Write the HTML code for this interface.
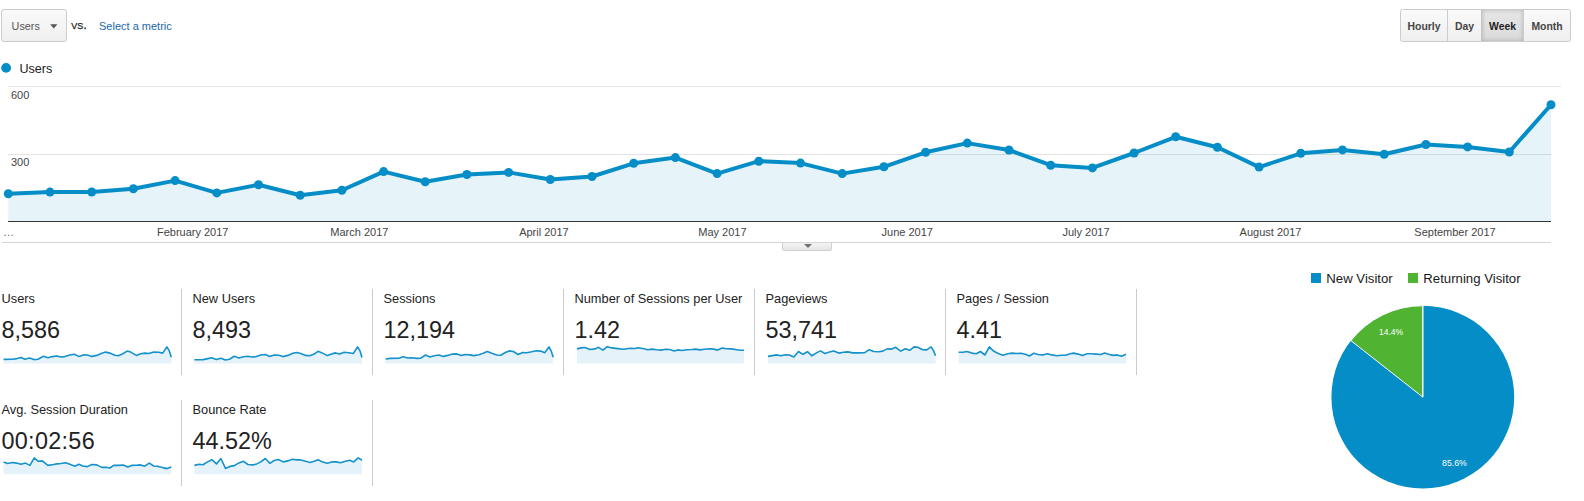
<!DOCTYPE html>
<html><head><meta charset="utf-8"><title>Audience Overview</title>
<style>
html,body{margin:0;padding:0;background:#fff}
body{width:1584px;height:501px;position:relative;overflow:hidden;font-family:"Liberation Sans",Arial,sans-serif;color:#222}
#cv{position:absolute;left:0;top:0}
.btn{position:absolute;box-sizing:border-box;border:1px solid #ccc;border-radius:3px;background:linear-gradient(#fafafa,#efefef);font-size:10.8px;color:#555}
#dd{left:1px;top:9px;width:66px;height:33px;line-height:33px;padding-left:9.6px}
#dd svg{position:absolute;left:47.8px;top:14px}
#vs{position:absolute;left:71.3px;top:17px;font-size:13px;line-height:15px;color:#222;font-variant:small-caps;-webkit-text-stroke:0.25px #222}
#sel{position:absolute;left:99px;top:20px;font-size:11px;line-height:13px;color:#1a68ad}
#grp{position:absolute;left:1400px;top:9px;width:171px;height:33px;box-sizing:border-box;border:1px solid #ccc;border-radius:2.5px;background:linear-gradient(#fafafa,#efefef);font-size:10.4px;font-weight:bold;color:#444;overflow:hidden}
#grp span{position:absolute;top:0;height:31px;line-height:34px;text-align:center;box-sizing:border-box;border-left:1px solid #ccc}
#grp span.on{background:linear-gradient(#e6e6e6,#dadada);box-shadow:inset 0 0 4px rgba(0,0,0,.22);color:#222;border-left-color:#c4c4c4}
#tab{position:absolute;left:782px;top:243px;width:50px;height:8px;box-sizing:border-box;border:1px solid #d0d0d0;border-top:none;border-radius:0 0 3px 3px;background:linear-gradient(#f4f4f4,#e6e6e6)}
#tab i{position:absolute;left:20.5px;top:1px;width:0;height:0;border-left:4px solid transparent;border-right:4px solid transparent;border-top:4px solid #707070}
.lbl{position:absolute;font-size:12.8px;line-height:16px;color:#222;white-space:nowrap}
.val{position:absolute;font-size:23.4px;line-height:28px;color:#222;white-space:nowrap}
.vd{position:absolute;width:1px;height:86px;background:#ccc}
</style></head><body>
<svg id="cv" width="1584" height="501" viewBox="0 0 1584 501">
<rect x="8" y="86" width="1553" height="1" fill="#e3e3e3"/>
<rect x="8" y="154" width="1543" height="1" fill="#e3e3e3"/>
<polygon points="8.3,221.0 8.3,193.8 50.0,192.1 91.7,192.0 133.4,188.8 175.1,180.6 216.8,192.9 258.5,184.7 300.2,195.3 341.9,190.3 383.6,171.6 425.2,181.7 466.9,174.5 508.6,172.4 550.3,179.5 592.0,176.5 633.7,163.3 675.4,157.6 717.1,173.6 758.8,161.2 800.5,163.1 842.2,173.6 883.9,166.8 925.6,152.3 967.3,143.1 1009.0,150.0 1050.7,165.2 1092.4,167.9 1134.1,153.0 1175.7,136.8 1217.4,147.3 1259.1,167.1 1300.8,153.3 1342.5,149.9 1384.2,154.3 1425.9,144.5 1467.6,146.9 1509.3,152.0 1551.0,104.8 1551.0,221.0" fill="#058dc7" fill-opacity="0.1"/>
<rect x="8" y="221" width="1543" height="1" fill="#333"/>
<rect x="2" y="242" width="1549" height="1" fill="#d4d4d4"/>
<polyline points="8.3,193.8 50.0,192.1 91.7,192.0 133.4,188.8 175.1,180.6 216.8,192.9 258.5,184.7 300.2,195.3 341.9,190.3 383.6,171.6 425.2,181.7 466.9,174.5 508.6,172.4 550.3,179.5 592.0,176.5 633.7,163.3 675.4,157.6 717.1,173.6 758.8,161.2 800.5,163.1 842.2,173.6 883.9,166.8 925.6,152.3 967.3,143.1 1009.0,150.0 1050.7,165.2 1092.4,167.9 1134.1,153.0 1175.7,136.8 1217.4,147.3 1259.1,167.1 1300.8,153.3 1342.5,149.9 1384.2,154.3 1425.9,144.5 1467.6,146.9 1509.3,152.0 1551.0,104.8" fill="none" stroke="#058dc7" stroke-width="4" stroke-linejoin="round" stroke-linecap="round"/>
<circle cx="8.3" cy="193.8" r="4.5" fill="#058dc7"/>
<circle cx="50.0" cy="192.1" r="4.5" fill="#058dc7"/>
<circle cx="91.7" cy="192.0" r="4.5" fill="#058dc7"/>
<circle cx="133.4" cy="188.8" r="4.5" fill="#058dc7"/>
<circle cx="175.1" cy="180.6" r="4.5" fill="#058dc7"/>
<circle cx="216.8" cy="192.9" r="4.5" fill="#058dc7"/>
<circle cx="258.5" cy="184.7" r="4.5" fill="#058dc7"/>
<circle cx="300.2" cy="195.3" r="4.5" fill="#058dc7"/>
<circle cx="341.9" cy="190.3" r="4.5" fill="#058dc7"/>
<circle cx="383.6" cy="171.6" r="4.5" fill="#058dc7"/>
<circle cx="425.2" cy="181.7" r="4.5" fill="#058dc7"/>
<circle cx="466.9" cy="174.5" r="4.5" fill="#058dc7"/>
<circle cx="508.6" cy="172.4" r="4.5" fill="#058dc7"/>
<circle cx="550.3" cy="179.5" r="4.5" fill="#058dc7"/>
<circle cx="592.0" cy="176.5" r="4.5" fill="#058dc7"/>
<circle cx="633.7" cy="163.3" r="4.5" fill="#058dc7"/>
<circle cx="675.4" cy="157.6" r="4.5" fill="#058dc7"/>
<circle cx="717.1" cy="173.6" r="4.5" fill="#058dc7"/>
<circle cx="758.8" cy="161.2" r="4.5" fill="#058dc7"/>
<circle cx="800.5" cy="163.1" r="4.5" fill="#058dc7"/>
<circle cx="842.2" cy="173.6" r="4.5" fill="#058dc7"/>
<circle cx="883.9" cy="166.8" r="4.5" fill="#058dc7"/>
<circle cx="925.6" cy="152.3" r="4.5" fill="#058dc7"/>
<circle cx="967.3" cy="143.1" r="4.5" fill="#058dc7"/>
<circle cx="1009.0" cy="150.0" r="4.5" fill="#058dc7"/>
<circle cx="1050.7" cy="165.2" r="4.5" fill="#058dc7"/>
<circle cx="1092.4" cy="167.9" r="4.5" fill="#058dc7"/>
<circle cx="1134.1" cy="153.0" r="4.5" fill="#058dc7"/>
<circle cx="1175.7" cy="136.8" r="4.5" fill="#058dc7"/>
<circle cx="1217.4" cy="147.3" r="4.5" fill="#058dc7"/>
<circle cx="1259.1" cy="167.1" r="4.5" fill="#058dc7"/>
<circle cx="1300.8" cy="153.3" r="4.5" fill="#058dc7"/>
<circle cx="1342.5" cy="149.9" r="4.5" fill="#058dc7"/>
<circle cx="1384.2" cy="154.3" r="4.5" fill="#058dc7"/>
<circle cx="1425.9" cy="144.5" r="4.5" fill="#058dc7"/>
<circle cx="1467.6" cy="146.9" r="4.5" fill="#058dc7"/>
<circle cx="1509.3" cy="152.0" r="4.5" fill="#058dc7"/>
<circle cx="1551.0" cy="104.8" r="4.5" fill="#058dc7"/>
<g font-family="Liberation Sans, Arial, sans-serif" font-size="11" fill="#444">
<text x="11" y="98.7">600</text><text x="11" y="166">300</text>
<text x="3" y="236" fill="#666">…</text>
<text x="192.7" y="236" text-anchor="middle">February 2017</text>
<text x="359.4" y="236" text-anchor="middle">March 2017</text>
<text x="543.9" y="236" text-anchor="middle">April 2017</text>
<text x="722.4" y="236" text-anchor="middle">May 2017</text>
<text x="907.3" y="236" text-anchor="middle">June 2017</text>
<text x="1086" y="236" text-anchor="middle">July 2017</text>
<text x="1270.5" y="236" text-anchor="middle">August 2017</text>
<text x="1455" y="236" text-anchor="middle">September 2017</text>
</g>
<circle cx="6.1" cy="67.9" r="4.9" fill="#058dc7"/>
<text x="19.4" y="72.7" font-family="Liberation Sans, Arial, sans-serif" font-size="12.6" fill="#222">Users</text>
<polygon points="3.6,363.4 3.6,359.4 12.0,359.2 17.0,358.6 21.0,357.4 25.0,359.2 29.5,358.0 33.9,359.6 37.9,359.2 43.5,356.2 47.9,357.8 52.3,356.6 56.9,356.0 60.9,357.0 64.9,356.6 69.9,355.0 74.3,354.3 78.8,356.4 83.4,354.9 87.4,355.0 91.8,356.4 96.8,355.4 101.8,353.3 105.8,352.1 109.8,353.1 114.8,355.2 118.8,355.6 122.8,353.7 127.1,351.1 130.7,352.1 136.3,355.4 140.7,353.7 144.7,353.1 148.7,353.5 153.7,352.1 158.7,352.3 162.7,353.1 166.9,346.9 169.3,350.9 171.3,357.2 171.3,363.4" fill="#e6f2f9"/>
<polyline points="3.6,359.4 12.0,359.2 17.0,358.6 21.0,357.4 25.0,359.2 29.5,358.0 33.9,359.6 37.9,359.2 43.5,356.2 47.9,357.8 52.3,356.6 56.9,356.0 60.9,357.0 64.9,356.6 69.9,355.0 74.3,354.3 78.8,356.4 83.4,354.9 87.4,355.0 91.8,356.4 96.8,355.4 101.8,353.3 105.8,352.1 109.8,353.1 114.8,355.2 118.8,355.6 122.8,353.7 127.1,351.1 130.7,352.1 136.3,355.4 140.7,353.7 144.7,353.1 148.7,353.5 153.7,352.1 158.7,352.3 162.7,353.1 166.9,346.9 169.3,350.9 171.3,357.2" fill="none" stroke="#1591cb" stroke-width="1.6" stroke-linejoin="round"/>
<polygon points="194.4,363.4 194.4,359.8 203.0,359.6 207.9,358.6 211.5,357.8 216.3,359.6 220.9,358.2 225.5,360.0 229.5,359.2 234.3,356.2 238.9,358.0 243.5,356.8 247.9,356.2 251.9,357.0 256.2,356.6 260.8,355.0 265.4,354.5 269.8,356.4 274.2,355.0 278.8,355.2 282.8,356.6 287.8,355.4 292.8,353.3 296.8,352.5 300.8,353.5 305.7,355.4 309.7,355.8 313.7,354.3 318.1,351.3 322.1,352.9 327.3,355.6 331.7,353.9 335.7,352.9 339.7,354.1 344.1,352.3 348.7,352.7 353.3,353.5 357.6,346.9 360.0,350.9 362.0,357.4 362.0,363.4" fill="#e6f2f9"/>
<polyline points="194.4,359.8 203.0,359.6 207.9,358.6 211.5,357.8 216.3,359.6 220.9,358.2 225.5,360.0 229.5,359.2 234.3,356.2 238.9,358.0 243.5,356.8 247.9,356.2 251.9,357.0 256.2,356.6 260.8,355.0 265.4,354.5 269.8,356.4 274.2,355.0 278.8,355.2 282.8,356.6 287.8,355.4 292.8,353.3 296.8,352.5 300.8,353.5 305.7,355.4 309.7,355.8 313.7,354.3 318.1,351.3 322.1,352.9 327.3,355.6 331.7,353.9 335.7,352.9 339.7,354.1 344.1,352.3 348.7,352.7 353.3,353.5 357.6,346.9 360.0,350.9 362.0,357.4" fill="none" stroke="#1591cb" stroke-width="1.6" stroke-linejoin="round"/>
<polygon points="385.6,363.4 385.6,359.0 390.0,358.4 398.9,358.2 402.9,356.8 407.9,358.0 411.9,357.8 416.9,358.4 420.9,358.2 425.5,355.0 429.9,357.0 434.3,355.8 438.9,355.0 443.3,356.4 447.8,355.4 452.2,354.1 456.8,353.9 461.2,355.4 465.4,354.5 469.8,354.9 473.8,355.6 478.8,354.7 483.2,353.3 487.2,351.5 491.8,353.3 496.7,355.0 500.7,355.2 505.3,352.5 509.1,350.9 513.3,351.5 518.1,354.5 522.7,352.5 526.7,352.7 531.7,351.7 536.1,350.7 540.7,351.1 544.7,352.7 549.0,346.9 551.2,350.9 553.2,357.2 553.2,363.4" fill="#e6f2f9"/>
<polyline points="385.6,359.0 390.0,358.4 398.9,358.2 402.9,356.8 407.9,358.0 411.9,357.8 416.9,358.4 420.9,358.2 425.5,355.0 429.9,357.0 434.3,355.8 438.9,355.0 443.3,356.4 447.8,355.4 452.2,354.1 456.8,353.9 461.2,355.4 465.4,354.5 469.8,354.9 473.8,355.6 478.8,354.7 483.2,353.3 487.2,351.5 491.8,353.3 496.7,355.0 500.7,355.2 505.3,352.5 509.1,350.9 513.3,351.5 518.1,354.5 522.7,352.5 526.7,352.7 531.7,351.7 536.1,350.7 540.7,351.1 544.7,352.7 549.0,346.9 551.2,350.9 553.2,357.2" fill="none" stroke="#1591cb" stroke-width="1.6" stroke-linejoin="round"/>
<polygon points="577.0,363.4 577.0,348.9 581.0,347.9 585.0,347.5 589.9,349.5 594.9,348.9 598.5,347.3 602.9,350.1 607.3,346.7 611.9,347.9 619.9,348.9 623.9,349.3 629.9,348.3 634.9,348.5 637.8,347.7 642.8,348.5 647.8,349.7 652.2,349.1 656.8,349.7 660.8,350.1 665.8,349.3 669.8,349.5 674.2,350.9 677.8,349.9 682.2,350.5 686.7,349.7 691.7,349.5 695.7,349.1 699.7,349.9 704.7,349.3 709.7,348.7 713.7,349.1 717.7,350.1 722.1,348.1 726.7,348.7 731.7,348.9 736.6,349.7 740.6,350.3 744.0,350.3 744.0,363.4" fill="#e6f2f9"/>
<polyline points="577.0,348.9 581.0,347.9 585.0,347.5 589.9,349.5 594.9,348.9 598.5,347.3 602.9,350.1 607.3,346.7 611.9,347.9 619.9,348.9 623.9,349.3 629.9,348.3 634.9,348.5 637.8,347.7 642.8,348.5 647.8,349.7 652.2,349.1 656.8,349.7 660.8,350.1 665.8,349.3 669.8,349.5 674.2,350.9 677.8,349.9 682.2,350.5 686.7,349.7 691.7,349.5 695.7,349.1 699.7,349.9 704.7,349.3 709.7,348.7 713.7,349.1 717.7,350.1 722.1,348.1 726.7,348.7 731.7,348.9 736.6,349.7 740.6,350.3 744.0,350.3" fill="none" stroke="#1591cb" stroke-width="1.6" stroke-linejoin="round"/>
<polygon points="768.0,363.4 768.0,356.4 772.4,355.6 776.3,354.9 780.9,355.8 785.5,354.7 789.3,355.0 793.9,357.0 798.5,351.5 802.9,354.3 807.5,351.7 811.9,355.8 816.5,352.9 820.5,350.9 824.9,353.5 829.4,352.1 833.8,350.9 838.8,353.1 843.4,352.3 847.8,351.9 852.8,352.9 858.8,352.9 864.8,352.7 869.2,349.7 873.8,351.5 878.7,351.7 882.7,351.1 887.3,348.9 891.7,349.1 895.7,347.3 900.7,351.1 905.3,348.7 909.7,350.3 914.1,346.9 917.7,347.3 922.7,349.7 926.6,349.9 931.2,346.9 933.6,350.9 935.6,355.8 935.6,363.4" fill="#e6f2f9"/>
<polyline points="768.0,356.4 772.4,355.6 776.3,354.9 780.9,355.8 785.5,354.7 789.3,355.0 793.9,357.0 798.5,351.5 802.9,354.3 807.5,351.7 811.9,355.8 816.5,352.9 820.5,350.9 824.9,353.5 829.4,352.1 833.8,350.9 838.8,353.1 843.4,352.3 847.8,351.9 852.8,352.9 858.8,352.9 864.8,352.7 869.2,349.7 873.8,351.5 878.7,351.7 882.7,351.1 887.3,348.9 891.7,349.1 895.7,347.3 900.7,351.1 905.3,348.7 909.7,350.3 914.1,346.9 917.7,347.3 922.7,349.7 926.6,349.9 931.2,346.9 933.6,350.9 935.6,355.8" fill="none" stroke="#1591cb" stroke-width="1.6" stroke-linejoin="round"/>
<polygon points="958.6,363.4 958.6,352.3 963.0,352.3 966.9,351.5 971.9,353.1 976.3,353.7 980.5,351.5 984.9,355.0 989.3,346.9 993.9,351.3 998.3,353.5 1002.9,355.2 1007.9,353.7 1011.9,353.1 1016.8,353.5 1020.8,353.3 1025.4,354.3 1029.4,356.0 1033.8,353.3 1038.2,354.5 1042.8,354.9 1047.2,353.7 1051.8,354.9 1056.8,355.8 1061.4,355.2 1065.7,355.2 1070.1,353.7 1073.7,353.1 1078.1,354.1 1082.5,355.6 1087.1,353.7 1091.7,353.7 1096.1,354.1 1100.7,354.5 1104.7,353.1 1109.3,354.5 1113.3,355.4 1117.2,354.9 1121.6,356.2 1126.0,354.3 1126.0,363.4" fill="#e6f2f9"/>
<polyline points="958.6,352.3 963.0,352.3 966.9,351.5 971.9,353.1 976.3,353.7 980.5,351.5 984.9,355.0 989.3,346.9 993.9,351.3 998.3,353.5 1002.9,355.2 1007.9,353.7 1011.9,353.1 1016.8,353.5 1020.8,353.3 1025.4,354.3 1029.4,356.0 1033.8,353.3 1038.2,354.5 1042.8,354.9 1047.2,353.7 1051.8,354.9 1056.8,355.8 1061.4,355.2 1065.7,355.2 1070.1,353.7 1073.7,353.1 1078.1,354.1 1082.5,355.6 1087.1,353.7 1091.7,353.7 1096.1,354.1 1100.7,354.5 1104.7,353.1 1109.3,354.5 1113.3,355.4 1117.2,354.9 1121.6,356.2 1126.0,354.3" fill="none" stroke="#1591cb" stroke-width="1.6" stroke-linejoin="round"/>
<polygon points="3.6,474.2 3.6,461.9 7.6,463.5 12.4,462.5 16.4,463.1 21.0,464.3 25.5,463.1 29.9,465.4 34.3,457.9 38.3,461.3 42.3,460.9 47.9,465.4 52.3,464.7 56.9,463.9 60.9,463.5 65.5,462.7 69.9,464.3 74.9,466.2 78.8,464.3 82.8,466.0 87.4,466.6 91.8,464.5 96.8,464.9 101.8,467.4 105.8,467.2 109.8,468.0 114.2,465.2 118.8,465.4 123.2,465.0 127.7,467.0 131.7,465.4 136.3,465.2 140.7,464.9 144.7,466.2 149.3,463.1 153.7,466.0 158.3,466.4 162.7,467.6 167.1,468.6 171.3,467.0 171.3,474.2" fill="#e6f2f9"/>
<polyline points="3.6,461.9 7.6,463.5 12.4,462.5 16.4,463.1 21.0,464.3 25.5,463.1 29.9,465.4 34.3,457.9 38.3,461.3 42.3,460.9 47.9,465.4 52.3,464.7 56.9,463.9 60.9,463.5 65.5,462.7 69.9,464.3 74.9,466.2 78.8,464.3 82.8,466.0 87.4,466.6 91.8,464.5 96.8,464.9 101.8,467.4 105.8,467.2 109.8,468.0 114.2,465.2 118.8,465.4 123.2,465.0 127.7,467.0 131.7,465.4 136.3,465.2 140.7,464.9 144.7,466.2 149.3,463.1 153.7,466.0 158.3,466.4 162.7,467.6 167.1,468.6 171.3,467.0" fill="none" stroke="#1591cb" stroke-width="1.6" stroke-linejoin="round"/>
<polygon points="194.4,474.2 194.4,465.4 199.0,464.3 203.0,464.7 207.5,461.9 211.9,459.7 216.5,463.9 220.9,458.5 225.5,468.4 229.9,466.4 234.3,465.6 238.9,462.9 243.5,461.3 247.9,464.5 252.9,464.9 256.8,463.9 260.8,461.9 265.4,458.5 269.8,463.3 274.2,460.5 278.4,459.5 283.2,461.9 287.8,460.9 292.2,459.3 296.8,459.9 300.8,459.9 305.7,461.3 310.1,462.5 314.1,461.3 318.1,459.7 322.7,462.1 327.3,463.3 331.7,461.9 336.1,461.9 340.7,462.7 345.3,461.3 349.7,460.3 353.7,461.9 358.2,457.9 362.0,460.3 362.0,474.2" fill="#e6f2f9"/>
<polyline points="194.4,465.4 199.0,464.3 203.0,464.7 207.5,461.9 211.9,459.7 216.5,463.9 220.9,458.5 225.5,468.4 229.9,466.4 234.3,465.6 238.9,462.9 243.5,461.3 247.9,464.5 252.9,464.9 256.8,463.9 260.8,461.9 265.4,458.5 269.8,463.3 274.2,460.5 278.4,459.5 283.2,461.9 287.8,460.9 292.2,459.3 296.8,459.9 300.8,459.9 305.7,461.3 310.1,462.5 314.1,461.3 318.1,459.7 322.7,462.1 327.3,463.3 331.7,461.9 336.1,461.9 340.7,462.7 345.3,461.3 349.7,460.3 353.7,461.9 358.2,457.9 362.0,460.3" fill="none" stroke="#1591cb" stroke-width="1.6" stroke-linejoin="round"/>
<circle cx="1422.8" cy="397.1" r="91.4" fill="#058dc7"/>
<path d="M1422.8,397.1 L1350.93,340.63 A91.4,91.4 0 0 1 1422.8,305.70000000000005 Z" fill="#50b432" stroke="#fff" stroke-width="1"/>
<line x1="1422.8" y1="397.1" x2="1422.8" y2="305.70000000000005" stroke="#fff" stroke-width="1"/>
<g font-family="Liberation Sans, Arial, sans-serif" font-size="9.8" fill="#fff" text-anchor="middle"><text x="1391" y="335.1" textLength="24.2" lengthAdjust="spacingAndGlyphs">14.4%</text><text x="1454.5" y="466" textLength="24.8" lengthAdjust="spacingAndGlyphs">85.6%</text></g>
<rect x="1311" y="273" width="10" height="10" fill="#058dc7"/><rect x="1408" y="273" width="10" height="10" fill="#50b432"/>
<g font-family="Liberation Sans, Arial, sans-serif" font-size="13.2" fill="#1a1a1a"><text x="1326.3" y="282.8">New Visitor</text><text x="1423.3" y="282.8">Returning Visitor</text></g>
</svg>
<div class="btn" id="dd">Users<svg width="8" height="6" viewBox="0 0 8 6"><polygon points="0.2,0.2 7.4,0.2 3.8,4.6" fill="#555"/></svg></div>
<div id="vs">vs.</div>
<div id="sel">Select a metric</div>
<div id="grp"><span style="left:0;width:46px;border-left:none">Hourly</span><span style="left:46px;width:34px">Day</span><span class="on" style="left:80px;width:42px">Week</span><span style="left:122px;width:47px">Month</span></div>
<div id="tab"><i></i></div>
<div class="lbl" style="left:1.5px;top:291px">Users</div><div class="val" style="left:1.5px;top:316px">8,586</div>
<div class="lbl" style="left:192.5px;top:291px">New Users</div><div class="val" style="left:192.5px;top:316px">8,493</div>
<div class="lbl" style="left:383.5px;top:291px">Sessions</div><div class="val" style="left:383.5px;top:316px">12,194</div>
<div class="lbl" style="left:574.5px;top:291px">Number of Sessions per User</div><div class="val" style="left:574.5px;top:316px">1.42</div>
<div class="lbl" style="left:765.5px;top:291px">Pageviews</div><div class="val" style="left:765.5px;top:316px">53,741</div>
<div class="lbl" style="left:956.5px;top:291px">Pages / Session</div><div class="val" style="left:956.5px;top:316px">4.41</div>
<div class="lbl" style="left:1.5px;top:402px">Avg. Session Duration</div><div class="val" style="left:1.5px;top:427px;letter-spacing:0.3px">00:02:56</div>
<div class="lbl" style="left:192.5px;top:402px">Bounce Rate</div><div class="val" style="left:192.5px;top:427px">44.52%</div>
<div class="vd" style="left:181px;top:289px"></div>
<div class="vd" style="left:372px;top:289px"></div>
<div class="vd" style="left:563px;top:289px"></div>
<div class="vd" style="left:754px;top:289px"></div>
<div class="vd" style="left:945px;top:289px"></div>
<div class="vd" style="left:1136px;top:289px"></div>
<div class="vd" style="left:181px;top:400px"></div>
<div class="vd" style="left:372px;top:400px"></div>
</body></html>
